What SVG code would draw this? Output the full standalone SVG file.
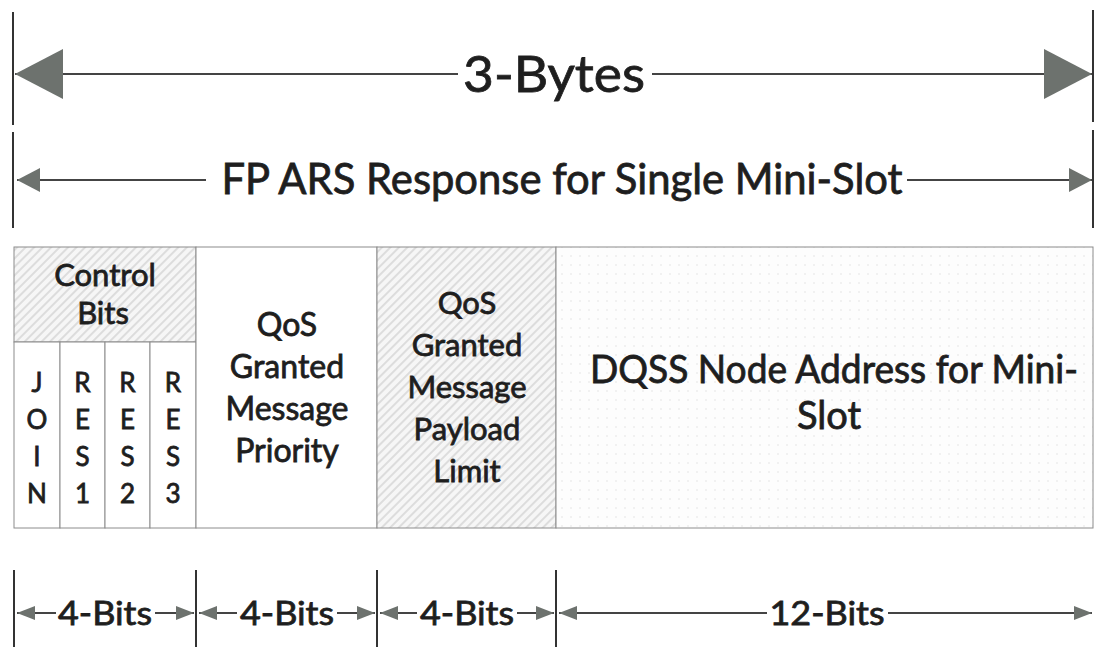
<svg xmlns="http://www.w3.org/2000/svg" width="1096" height="647" viewBox="0 0 1096 647">
<style>
  .t { font-family: "Lato", "Liberation Sans", sans-serif; fill: #1e1e1e; stroke: #1e1e1e; stroke-width: 0.8; }
  .mid { text-anchor: middle; }
  .bar { stroke: #333; stroke-width: 2; }
  .dim { stroke: #444; stroke-width: 2; fill: none; }
  .cell { stroke: #8c8c8c; stroke-width: 1; }
</style>
<defs>
  <pattern id="hatch" width="6" height="6" patternUnits="userSpaceOnUse" patternTransform="rotate(45)">
    <rect width="6" height="6" fill="#f6f6f6"/>
    <line x1="1" y1="0" x2="1" y2="6" stroke="#d2d2d2" stroke-width="1.4"/>
  </pattern>
  <pattern id="dots" width="9" height="9" patternUnits="userSpaceOnUse">
    <rect width="9" height="9" fill="#fdfdfd"/>
    <circle cx="4" cy="4" r="0.8" fill="#e2e2e2"/>
  </pattern>
  <marker id="headL" markerUnits="userSpaceOnUse" markerWidth="48" markerHeight="50" refX="48" refY="25" orient="auto" viewBox="0 0 48 50">
    <path d="M0,0 L48,25 L0,50 Z" fill="#6d726e"/>
  </marker>
  <marker id="headM" markerUnits="userSpaceOnUse" markerWidth="23" markerHeight="24" refX="23" refY="12" orient="auto" viewBox="0 0 23 24">
    <path d="M0,0 L23,12 L0,24 Z" fill="#6d726e"/>
  </marker>
  <marker id="headS" markerUnits="userSpaceOnUse" markerWidth="18" markerHeight="14" refX="18" refY="7" orient="auto" viewBox="0 0 18 14">
    <path d="M0,0 L18,7 L0,14 Z" fill="#6d726e"/>
  </marker>
</defs>
<rect width="1096" height="647" fill="#ffffff"/>

<!-- extent bars -->
<g id="extent-bars">
  <line class="bar" x1="13" y1="12" x2="13" y2="125"/>
  <line class="bar" x1="13" y1="132" x2="13" y2="228"/>
  <line class="bar" x1="1093" y1="10" x2="1093" y2="122"/>
  <line class="bar" x1="1093" y1="130" x2="1093" y2="228"/>
  <line class="bar" x1="14" y1="570" x2="14" y2="647"/>
  <line class="bar" x1="196" y1="570" x2="196" y2="647"/>
  <line class="bar" x1="377" y1="570" x2="377" y2="647"/>
  <line class="bar" x1="556" y1="570" x2="556" y2="647"/>
</g>

<!-- connectors (dimension arrows) -->
<g id="connectors">
  <line class="dim" x1="458" y1="74" x2="15" y2="74" marker-end="url(#headL)"/>
  <line class="dim" x1="652" y1="74" x2="1092" y2="74" marker-end="url(#headL)"/>
  <line class="dim" x1="206" y1="180" x2="17" y2="180" marker-end="url(#headM)"/>
  <line class="dim" x1="907" y1="180" x2="1092" y2="180" marker-end="url(#headM)"/>
  <line class="dim" x1="56" y1="613" x2="17" y2="613" marker-end="url(#headS)"/>
  <line class="dim" x1="155" y1="613" x2="194" y2="613" marker-end="url(#headS)"/>
  <line class="dim" x1="237" y1="613" x2="199" y2="613" marker-end="url(#headS)"/>
  <line class="dim" x1="337" y1="613" x2="375" y2="613" marker-end="url(#headS)"/>
  <line class="dim" x1="417" y1="613" x2="380" y2="613" marker-end="url(#headS)"/>
  <line class="dim" x1="517" y1="613" x2="554" y2="613" marker-end="url(#headS)"/>
  <line class="dim" x1="767" y1="613" x2="559" y2="613" marker-end="url(#headS)"/>
  <line class="dim" x1="888" y1="613" x2="1092" y2="613" marker-end="url(#headS)"/>
</g>

<g id="label-3bytes">
  <text class="t mid" x="554" y="92" font-size="51" textLength="182" lengthAdjust="spacingAndGlyphs">3-Bytes</text>
</g>
<g id="label-fp-ars">
  <text class="t mid" x="562" y="194" font-size="42" textLength="681" lengthAdjust="spacingAndGlyphs">FP ARS Response for Single Mini-Slot</text>
</g>

<!-- fields -->
<g id="control-bits">
  <rect class="cell" x="14" y="247" width="182" height="95" fill="url(#hatch)"/>
  <text class="t mid" x="105" y="286" font-size="31">Control</text>
  <text class="t mid" x="103" y="324" font-size="31">Bits</text>
</g>
<g id="join">
  <rect class="cell" x="14" y="342" width="46" height="186" fill="#ffffff"/>
  <text class="t mid" x="37" y="392" font-size="26">J</text>
  <text class="t mid" x="37" y="429" font-size="26">O</text>
  <text class="t mid" x="37" y="466" font-size="26">I</text>
  <text class="t mid" x="37" y="503" font-size="26">N</text>
</g>
<g id="res1">
  <rect class="cell" x="60" y="342" width="45" height="186" fill="#ffffff"/>
  <text class="t mid" x="82.5" y="392" font-size="26">R</text>
  <text class="t mid" x="82.5" y="429" font-size="26">E</text>
  <text class="t mid" x="82.5" y="466" font-size="26">S</text>
  <text class="t mid" x="82.5" y="503" font-size="26">1</text>
</g>
<g id="res2">
  <rect class="cell" x="105" y="342" width="45" height="186" fill="#ffffff"/>
  <text class="t mid" x="127.5" y="392" font-size="26">R</text>
  <text class="t mid" x="127.5" y="429" font-size="26">E</text>
  <text class="t mid" x="127.5" y="466" font-size="26">S</text>
  <text class="t mid" x="127.5" y="503" font-size="26">2</text>
</g>
<g id="res3">
  <rect class="cell" x="150" y="342" width="46" height="186" fill="#ffffff"/>
  <text class="t mid" x="173" y="392" font-size="26">R</text>
  <text class="t mid" x="173" y="429" font-size="26">E</text>
  <text class="t mid" x="173" y="466" font-size="26">S</text>
  <text class="t mid" x="173" y="503" font-size="26">3</text>
</g>
<g id="qos-priority">
  <rect class="cell" x="196" y="247" width="181" height="281" fill="#ffffff"/>
  <text class="t mid" x="287" y="336" font-size="32">QoS</text>
  <text class="t mid" x="287" y="378" font-size="32">Granted</text>
  <text class="t mid" x="287" y="420" font-size="32">Message</text>
  <text class="t mid" x="287" y="462" font-size="32">Priority</text>
</g>
<g id="qos-payload">
  <rect class="cell" x="377" y="247" width="179" height="281" fill="url(#hatch)"/>
  <text class="t mid" x="467" y="314" font-size="31">QoS</text>
  <text class="t mid" x="467" y="356" font-size="31">Granted</text>
  <text class="t mid" x="467" y="398" font-size="31">Message</text>
  <text class="t mid" x="467" y="440" font-size="31">Payload</text>
  <text class="t mid" x="467" y="482" font-size="31">Limit</text>
</g>
<g id="dqss-address">
  <rect class="cell" x="556" y="247" width="537" height="281" fill="url(#dots)"/>
  <text class="t mid" x="834" y="383" font-size="38" textLength="488" lengthAdjust="spacingAndGlyphs">DQSS Node Address for Mini-</text>
  <text class="t mid" x="829" y="429" font-size="38">Slot</text>
</g>

<!-- bit-width labels -->
<g id="bits-labels">
  <text class="t mid" x="105" y="625" font-size="33" textLength="94" lengthAdjust="spacingAndGlyphs">4-Bits</text>
  <text class="t mid" x="287" y="625" font-size="33" textLength="94" lengthAdjust="spacingAndGlyphs">4-Bits</text>
  <text class="t mid" x="467" y="625" font-size="33" textLength="94" lengthAdjust="spacingAndGlyphs">4-Bits</text>
  <text class="t mid" x="827" y="625" font-size="33" textLength="115" lengthAdjust="spacingAndGlyphs">12-Bits</text>
</g>
</svg>
